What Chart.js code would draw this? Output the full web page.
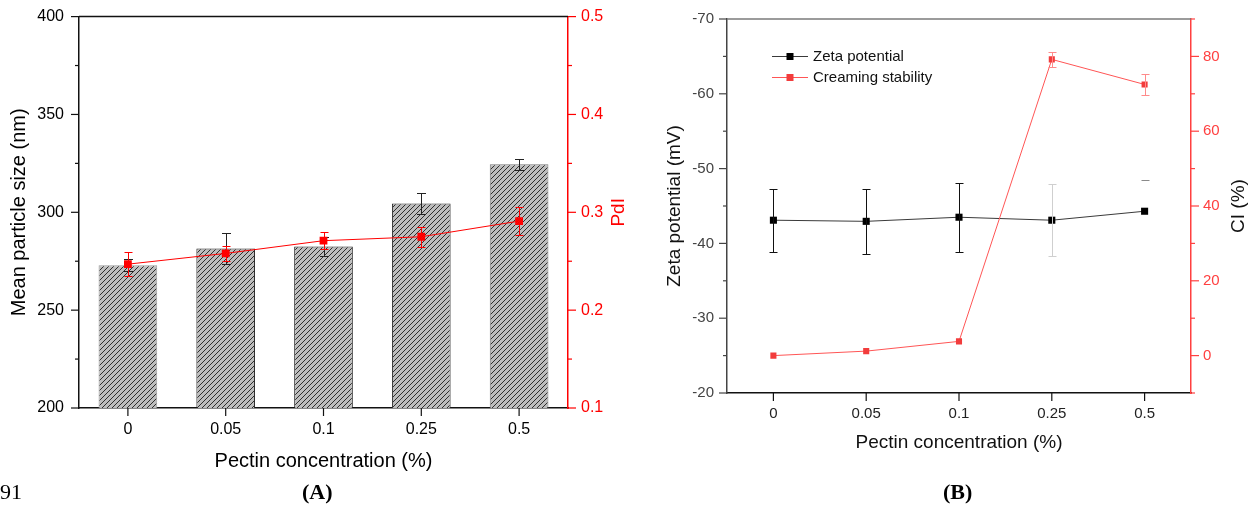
<!DOCTYPE html>
<html><head><meta charset="utf-8">
<script src="https://cdn.jsdelivr.net/npm/chart.js@4.4.1/dist/chart.umd.min.js"></script>
<style>
html,body{margin:0;padding:0;background:#fff;width:1252px;height:512px;overflow:hidden}
#wa{position:absolute;left:0;top:0;width:626px;height:480px}
#wb{position:absolute;left:626px;top:0;width:626px;height:480px}
.cap{position:absolute;font-family:"Liberation Serif","Times New Roman",serif;font-size:22px;color:#000;top:478px;line-height:28px;white-space:nowrap}
</style></head><body>
<div id="wa"><canvas id="ca" width="626" height="480"></canvas></div>
<div id="wb"><canvas id="cb" width="626" height="480"></canvas></div>
<div class="cap" style="left:0">91</div>
<div class="cap" style="left:302px;font-weight:bold">(A)</div>
<div class="cap" style="left:943px;font-weight:bold">(B)</div>
<script>
// ---------- data ----------
const categories = ['0', '0.05', '0.1', '0.25', '0.5'];
// Panel A
const particleSize = [273, 281.5, 282.5, 304.5, 324.5];
const particleSizeErr = [3, 8, 5, 5.3, 2.9];
const pdi = [0.247, 0.258, 0.271, 0.275, 0.291];
const pdiErr = [0.012, 0.008, 0.009, 0.010, 0.014];
const sizeTicks = [200, 250, 300, 350, 400];
const sizeMinor = [225, 275, 325, 375];
const pdiTicks = [0.1, 0.2, 0.3, 0.4, 0.5];
const pdiTickLabels = ['0.1', '0.2', '0.3', '0.4', '0.5'];
const pdiMinor = [0.15, 0.25, 0.35, 0.45];
// Panel B
const zeta = [-43.1, -42.95, -43.5, -43.1, -44.3];
const zetaErr = [4.2, 4.35, 4.6, 4.8, 4.2];
const ci = [0, 1.2, 3.8, 79.2, 72.5];
const ciErr = [0, 0, 0, 2, 2.7];
const zetaTicks = [-70, -60, -50, -40, -30, -20];
const zetaMinor = [-65, -55, -45, -35, -25];
const ciTicks = [0, 20, 40, 60, 80];
const ciMinor = [-10, 10, 30, 50, 70, 90];

const xTitle = 'Pectin concentration (%)';

Chart.defaults.font.family = '"Liberation Sans", Arial, sans-serif';
Chart.defaults.animation = false;

function hatch() {
  const n = 5;
  const c = document.createElement('canvas'); c.width = n; c.height = n;
  const g = c.getContext('2d');
  g.fillStyle = '#bdbdbd'; g.fillRect(0, 0, n, n);
  g.strokeStyle = '#1e1e1e'; g.lineWidth = 0.9;
  g.beginPath();
  g.moveTo(0, n); g.lineTo(n, 0);
  g.moveTo(-1, 1); g.lineTo(1, -1);
  g.moveTo(n - 1, n + 1); g.lineTo(n + 1, n - 1);
  g.stroke();
  return g.createPattern(c, 'repeat');
}

// error bars drawn right after each dataset
const errorBars = {
  id: 'errorBars',
  afterDatasetDraw(chart, args) {
    const ds = chart.data.datasets[args.index];
    if (!ds.errors) return;
    const meta = args.meta; const ys = chart.scales[meta.yAxisID]; const ctx = chart.ctx;
    ds.errors.forEach((e, i) => {
      if (!e) return;
      const x = Math.round(meta.data[i].x) + 0.5; const v = ds.data[i];
      const yHi = Math.round(ys.getPixelForValue(v + e)) + 0.5, yLo = Math.round(ys.getPixelForValue(v - e)) + 0.5;
      const col = (ds.errColors && ds.errColors[i]) || ds.errColor;
      const parts = (ds.errParts && ds.errParts[i]) || 'both';
      const cw = ds.capWidth / 2;
      ctx.save(); ctx.strokeStyle = col; ctx.lineWidth = 1;
      ctx.beginPath();
      if (parts === 'both') {
        ctx.moveTo(x, yHi); ctx.lineTo(x, yLo);
        ctx.moveTo(x - cw, yHi); ctx.lineTo(x + cw, yHi);
      }
      ctx.moveTo(x - cw, yLo); ctx.lineTo(x + cw, yLo);
      ctx.stroke(); ctx.restore();
    });
  }
};

// frame top line, tick marks (major + minor), right-axis titles, legend
const deco = {
  id: 'deco',
  afterDraw(chart, args, o) {
    const ctx = chart.ctx; const a = chart.chartArea;
    ctx.save();
    if (o.topColor) {
      ctx.strokeStyle = o.topColor; ctx.lineWidth = 1.5;
      ctx.beginPath(); ctx.moveTo(a.left, a.top); ctx.lineTo(a.right, a.top); ctx.stroke();
    }
    (o.axes || []).forEach(ax => {
      const s = chart.scales[ax.id];
      ctx.strokeStyle = ax.color; ctx.lineWidth = 1.2;
      const draw = (v, len) => {
        const p = s.getPixelForValue(v);
        ctx.beginPath();
        if (ax.side === 'left') { ctx.moveTo(a.left, p); ctx.lineTo(a.left - len, p); }
        else if (ax.side === 'right') { ctx.moveTo(a.right, p); ctx.lineTo(a.right + len, p); }
        else { ctx.moveTo(p, a.bottom); ctx.lineTo(p, a.bottom + len); }
        ctx.stroke();
      };
      s.ticks.forEach(t => draw(t.value, 8));
      (ax.minors || []).forEach(v => draw(v, 4));
    });
    (o.rightTitles || []).forEach(t => {
      ctx.save();
      ctx.fillStyle = t.color; ctx.font = t.size + 'px "Liberation Sans", Arial, sans-serif';
      ctx.textAlign = 'center'; ctx.textBaseline = 'middle';
      ctx.translate(t.x, (a.top + a.bottom) / 2); ctx.rotate(-Math.PI / 2);
      ctx.fillText(t.text, 0, 0);
      ctx.restore();
    });
    if (o.legend) {
      const L = o.legend;
      ctx.font = L.size + 'px "Liberation Sans", Arial, sans-serif';
      ctx.textBaseline = 'middle'; ctx.textAlign = 'left';
      chart.data.datasets.forEach((ds, i) => {
        const x0 = a.left + L.dx, y = a.top + L.dy + i * L.row;
        ctx.strokeStyle = ds.borderColor; ctx.lineWidth = 1;
        ctx.beginPath(); ctx.moveTo(x0, y + 0.5); ctx.lineTo(x0 + L.len, y + 0.5); ctx.stroke();
        ctx.fillStyle = ds.pointBackgroundColor;
        ctx.fillRect(x0 + L.len / 2 - 3.5, y - 3, 7, 7);
        ctx.fillStyle = '#111';
        ctx.fillText(ds.label, x0 + L.len + 5, y + 1);
      });
    }
    ctx.restore();
  }
};

const baseGrid = { display: true, drawOnChartArea: false, drawTicks: true, tickLength: 8, tickColor: 'transparent', offset: false };

// ---------- Chart A ----------
new Chart(document.getElementById('ca'), {
  data: {
    labels: categories,
    datasets: [
      { type: 'bar', label: 'Mean particle size', data: particleSize, yAxisID: 'y', order: 2,
        backgroundColor: hatch(), borderColor: ['#9a9a9a', '#222', '#222', '#333', '#777'],
        borderWidth: { top: 1, left: 1, right: 1, bottom: 0 },
        borderSkipped: false, barPercentage: 0.6, categoryPercentage: 1.0,
        errors: particleSizeErr, errColor: '#222', capWidth: 9 },
      { type: 'line', label: 'PdI', data: pdi, yAxisID: 'y2', order: 1,
        borderColor: '#ff0000', borderWidth: 1, pointStyle: 'rect', pointRadius: 5.5,
        pointBackgroundColor: '#ff0000', pointBorderWidth: 0, tension: 0,
        errors: pdiErr, errColor: '#ff0000', capWidth: 8 }
    ]
  },
  options: {
    responsive: false, devicePixelRatio: 1,
    layout: { padding: { top: 14, left: 0, right: 0, bottom: 0 } },
    plugins: { legend: { display: false }, tooltip: { enabled: false },
      deco: { topColor: '#111',
        axes: [ { id: 'y', side: 'left', color: '#111', minors: sizeMinor },
                { id: 'y2', side: 'right', color: '#ff0000', minors: pdiMinor },
                { id: 'x', side: 'bottom', color: '#111' } ],
        rightTitles: [ { text: 'PdI', x: 619, color: '#ff0000', size: 19 } ] } },
    scales: {
      x: { type: 'category', offset: true, grid: baseGrid,
        border: { display: true, color: '#111', width: 1.5 },
        ticks: { color: '#000', font: { size: 16 }, padding: 4, maxRotation: 0, autoSkip: false },
        title: { display: true, text: xTitle, color: '#000', font: { size: 20 }, padding: { top: 0, bottom: 7 } },
        afterFit(s) { s.height = 72; } },
      y: { type: 'linear', position: 'left', min: 200, max: 400, grid: baseGrid,
        afterBuildTicks(s) { s.ticks = sizeTicks.map(v => ({ value: v })); },
        border: { display: true, color: '#111', width: 1.5 },
        ticks: { color: '#000', font: { size: 16 }, padding: 7, callback: v => String(v) },
        title: { display: true, text: 'Mean particle size (nm)', color: '#000', font: { size: 20 }, padding: { top: 7, bottom: 0 } },
        afterFit(s) { s.width = 79; } },
      y2: { type: 'linear', position: 'right', min: 0.1, max: 0.5, grid: baseGrid,
        afterBuildTicks(s) { s.ticks = pdiTicks.map(v => ({ value: v })); },
        border: { display: true, color: '#ff0000', width: 1.5 },
        ticks: { color: '#ff0000', font: { size: 16 }, padding: 5,
          callback: (v, i) => pdiTickLabels[i] },
        afterFit(s) { s.width = 58; } }
    }
  },
  plugins: [errorBars, deco]
});

// ---------- Chart B ----------
new Chart(document.getElementById('cb'), {
  type: 'line',
  data: {
    labels: categories,
    datasets: [
      { label: 'Zeta potential', data: zeta, yAxisID: 'y', order: 2,
        borderColor: '#3a3a3a', borderWidth: 1, pointStyle: 'rect', pointRadius: 5,
        pointBackgroundColor: '#000', pointBorderWidth: 0, tension: 0,
        errors: zetaErr, errColor: '#111', errColors: ['#111', '#111', '#111', '#cfcfcf', '#8a8a8a'],
        errParts: ['both', 'both', 'both', 'both', 'low'], capWidth: 8 },
      { label: 'Creaming stability', data: ci, yAxisID: 'y2', order: 1,
        borderColor: '#ff5555', borderWidth: 1, pointStyle: 'rect', pointRadius: 4.3,
        pointBackgroundColor: '#f23c3c', pointBorderWidth: 0, tension: 0,
        errors: ciErr, errColor: '#ff8a8a', capWidth: 8 }
    ]
  },
  options: {
    responsive: false, devicePixelRatio: 1,
    layout: { padding: { top: 19, left: 0, right: 0, bottom: 0 } },
    plugins: { legend: { display: false }, tooltip: { enabled: false },
      deco: { topColor: '#7a7a7a',
        axes: [ { id: 'y', side: 'left', color: '#444', minors: zetaMinor },
                { id: 'y2', side: 'right', color: '#ff4040', minors: ciMinor },
                { id: 'x', side: 'bottom', color: '#111' } ],
        rightTitles: [ { text: 'CI (%)', x: 613, color: '#111', size: 19 } ],
        legend: { dx: 45, dy: 37, row: 21, len: 36, size: 15 } } },
    scales: {
      x: { type: 'category', offset: true, grid: baseGrid,
        border: { display: true, color: '#111', width: 1.5 },
        ticks: { color: '#222', font: { size: 15 }, padding: 4, maxRotation: 0, autoSkip: false },
        title: { display: true, text: xTitle, color: '#111', font: { size: 19 }, padding: { top: 0, bottom: 26 } },
        afterFit(s) { s.height = 87; } },
      y: { type: 'linear', position: 'left', min: -70, max: -20, reverse: true, grid: baseGrid,
        afterBuildTicks(s) { s.ticks = zetaTicks.map(v => ({ value: v })); },
        border: { display: true, color: '#444', width: 1.5 },
        ticks: { color: '#444', font: { size: 15 }, padding: 5, callback: v => String(v) },
        title: { display: true, text: 'Zeta potential (mV)', color: '#111', font: { size: 19 }, padding: { top: 37.5, bottom: 0 } },
        afterFit(s) { s.width = 101; } },
      y2: { type: 'linear', position: 'right', min: -10, max: 90, grid: baseGrid,
        afterBuildTicks(s) { s.ticks = ciTicks.map(v => ({ value: v })); },
        border: { display: true, color: '#ff4040', width: 1.5 },
        ticks: { color: '#ff4040', font: { size: 15 }, padding: 4, callback: v => String(v) },
        afterFit(s) { s.width = 61; } }
    }
  },
  plugins: [errorBars, deco]
});
</script>
</body></html>
